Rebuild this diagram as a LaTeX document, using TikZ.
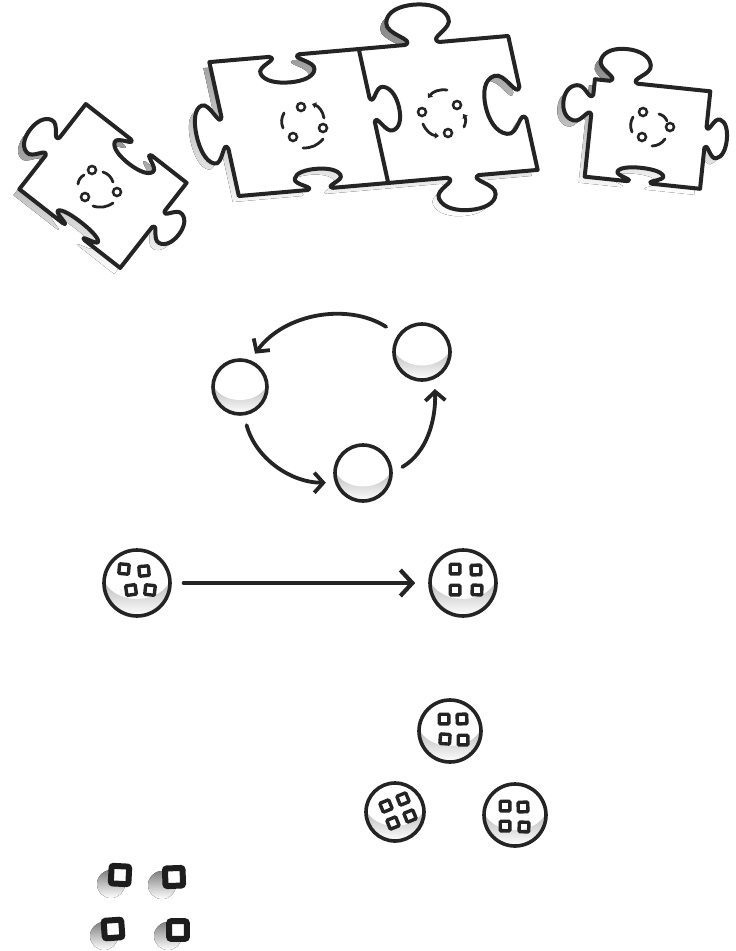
\documentclass[tikz,border=0pt]{standalone}
\usetikzlibrary{arrows.meta}
\definecolor{ink}{HTML}{242424}
\definecolor{shade}{HTML}{C7C8CA}

% Jigsaw tab on an edge: #1 edge level, #2 tab centre along the edge,
% #3 signed depth (positive = knob, negative = socket), #4 width factor.
\newcommand\pzN[4]{-- ({#2-0.2*(#4)},{#1}) .. controls ({#2-0.06*(#4)},{#1-0.12*(#3)}) and ({#2-0.4*(#4)},{#1-0.3*(#3)}) .. ({#2-0.36*(#4)},{#1-0.6*(#3)}) .. controls ({#2-0.33*(#4)},{#1-0.88*(#3)}) and ({#2-0.17*(#4)},{#1-(#3)}) .. ({#2},{#1-(#3)}) .. controls ({#2+0.17*(#4)},{#1-(#3)}) and ({#2+0.33*(#4)},{#1-0.88*(#3)}) .. ({#2+0.36*(#4)},{#1-0.6*(#3)}) .. controls ({#2+0.4*(#4)},{#1-0.3*(#3)}) and ({#2+0.06*(#4)},{#1-0.12*(#3)}) .. ({#2+0.2*(#4)},{#1})}
\newcommand\pzE[4]{-- ({#1},{#2-0.2*(#4)}) .. controls ({#1+0.12*(#3)},{#2-0.06*(#4)}) and ({#1+0.3*(#3)},{#2-0.4*(#4)}) .. ({#1+0.6*(#3)},{#2-0.36*(#4)}) .. controls ({#1+0.88*(#3)},{#2-0.33*(#4)}) and ({#1+(#3)},{#2-0.17*(#4)}) .. ({#1+(#3)},{#2}) .. controls ({#1+(#3)},{#2+0.17*(#4)}) and ({#1+0.88*(#3)},{#2+0.33*(#4)}) .. ({#1+0.6*(#3)},{#2+0.36*(#4)}) .. controls ({#1+0.3*(#3)},{#2+0.4*(#4)}) and ({#1+0.12*(#3)},{#2+0.06*(#4)}) .. ({#1},{#2+0.2*(#4)})}
\newcommand\pzS[4]{-- ({#2+0.2*(#4)},{#1}) .. controls ({#2+0.06*(#4)},{#1+0.12*(#3)}) and ({#2+0.4*(#4)},{#1+0.3*(#3)}) .. ({#2+0.36*(#4)},{#1+0.6*(#3)}) .. controls ({#2+0.33*(#4)},{#1+0.88*(#3)}) and ({#2+0.17*(#4)},{#1+(#3)}) .. ({#2},{#1+(#3)}) .. controls ({#2-0.17*(#4)},{#1+(#3)}) and ({#2-0.33*(#4)},{#1+0.88*(#3)}) .. ({#2-0.36*(#4)},{#1+0.6*(#3)}) .. controls ({#2-0.4*(#4)},{#1+0.3*(#3)}) and ({#2-0.06*(#4)},{#1+0.12*(#3)}) .. ({#2-0.2*(#4)},{#1})}
\newcommand\pzW[4]{-- ({#1},{#2+0.2*(#4)}) .. controls ({#1-0.12*(#3)},{#2+0.06*(#4)}) and ({#1-0.3*(#3)},{#2+0.4*(#4)}) .. ({#1-0.6*(#3)},{#2+0.36*(#4)}) .. controls ({#1-0.88*(#3)},{#2+0.33*(#4)}) and ({#1-(#3)},{#2+0.17*(#4)}) .. ({#1-(#3)},{#2}) .. controls ({#1-(#3)},{#2-0.17*(#4)}) and ({#1-0.88*(#3)},{#2-0.33*(#4)}) .. ({#1-0.6*(#3)},{#2-0.36*(#4)}) .. controls ({#1-0.3*(#3)},{#2-0.4*(#4)}) and ({#1-0.12*(#3)},{#2-0.06*(#4)}) .. ({#1},{#2-0.2*(#4)})}

% Piece outlines in their own unit frames (y grows downwards)
\newcommand\pieceone{(-1,-1) \pzN{-1}{0.1}{-0.38}{1.05} -- (1,-1) \pzE{1}{-0.15}{0.4}{0.95} -- (1,1) \pzS{1}{0.08}{-0.22}{1.1} -- (-1,1) \pzW{-1}{0}{0.44}{1.05} -- cycle}
\newcommand\piecepair{(-2,-1) \pzN{-1}{-1.0}{-0.4}{1.0} -- (0,-1) \pzN{-1}{0.85}{0.58}{1.15} -- (2,-1) \pzE{2}{0}{-0.5}{1.2} -- (2,1) \pzS{1}{1.0}{0.5}{1.05} -- (0,1) \pzS{1}{-0.91}{-0.3}{0.85} -- (-2,1) \pzW{-2}{0.06}{0.38}{1.2} -- cycle}
\newcommand\piecejoint{(0,-1) \pzE{0}{-0.09}{0.36}{0.9} -- (0,1)}
\newcommand\piecefour{(-1,-1) \pzN{-1}{-0.5}{0.68}{1.2} -- (1,-1) \pzE{1}{-0.05}{0.37}{1.1} -- (1,1) \pzS{1}{-0.05}{-0.3}{1.1} -- (-1,1) \pzW{-1}{-0.48}{0.5}{1.0} -- cycle}

% small square marks
\newcommand\tinysq[3]{\draw[sq, rotate around={#3:(#1,#2)}] ({#1-4.8},{#2-4.8}) rectangle ({#1+4.8},{#2+4.8});}
\newcommand\bigsq[3]{\filldraw[bigsq, rotate around={#3:(#1,#2)}] ({#1-8.8},{#2-8.8}) rectangle ({#1+8.8},{#2+8.8});}

\begin{document}
\begin{tikzpicture}[x=1pt,y=-1pt,
  piece/.style={draw=ink, fill=white, line width=4pt, line join=round},
  joint/.style={draw=ink, line width=4pt, line join=round},
  icon/.style={draw=ink, line width=2.8pt, line cap=round},
  dot/.style={draw=ink, line width=2.5pt},
  icontip/.style={-{Triangle[length=4pt,width=6pt]}},
  cyc/.style={draw=ink, line width=3.8pt, line cap=round, -{Straight Barb[length=9pt,width=20pt]}},
  bigarr/.style={draw=ink, line width=4.2pt, line cap=round, -{Straight Barb[length=12pt,width=26pt]}},
  sq/.style={draw=ink, line width=3.4pt, rounded corners=1pt},
  bigsq/.style={draw=ink!80!black, fill=white, line width=6pt, rounded corners=2pt},
  ball/.style={circle, draw=ink, line width=3.6pt, minimum size=2*#1, inner sep=0pt,
    path picture={\fill[shade] (path picture bounding box.south west) rectangle (path picture bounding box.north east);
      \fill[white] ([yshift=0.32*#1]path picture bounding box.center) ellipse [x radius=1.05*#1, y radius=0.8*#1];}},
  pone/.style={shift={(103,186)}, rotate=-38, xscale=64, yscale=54},
  ppair/.style={shift={(373.5,116)}, rotate=5, xslant=-0.13, xscale=75, yscale=68},
  pfour/.style={shift={(647.5,134)}, rotate=-6, xscale=58, yscale=49}]
\useasboundingbox (0,0) rectangle (736,951);
\fill[white] (0,0) rectangle (736,951);

% ---- puzzle pieces: shadows, then outlines
\begin{scope}[shift={(-6,6)}]
  \begin{scope}[pone]\fill[shade] \pieceone;\end{scope}
  \begin{scope}[ppair]\fill[shade] \piecepair;\end{scope}
  \begin{scope}[pfour]\fill[shade] \piecefour;\end{scope}
\end{scope}
\begin{scope}[pone]\path[piece] \pieceone;\end{scope}
\begin{scope}[ppair]\path[piece] \piecepair; \path[joint] \piecejoint;\end{scope}
\begin{scope}[pfour]\path[piece] \piecefour;\end{scope}

% ---- cycle marks on the pieces
% left piece
\draw[dot] (92,170) circle[radius=4];
\draw[dot] (85,197) circle[radius=4];
\draw[dot] (117,192) circle[radius=4];
\draw[icon] (78,184) to[bend left=25] (84,175);
\draw[icon] (103,172) to[bend left=25] (113,182);
\draw[icon] (113,203) to[bend left=25] (93,206);
% joined pair, left half
\draw[dot] (301,107) circle[radius=4];
\draw[dot] (323,128) circle[radius=4];
\draw[dot] (293,137) circle[radius=4];
\draw[icon] (283,128) to[bend left=25] (284,113);
\draw[icon,icontip] (324,118) to[bend right=30] (312,104);
\draw[icon] (323,139) to[bend left=25] (303,148);
% joined pair, right half
\draw[dot] (422,112) circle[radius=4];
\draw[dot] (457,105) circle[radius=4];
\draw[dot] (448,133) circle[radius=4];
\draw[icon,icontip] (447,90) to[bend right=30] (428,98);
\draw[icon,icontip] (423,124) to[bend right=30] (439,136);
\draw[icon,icontip] (464,127) to[bend right=30] (463,114);
% right piece
\draw[dot] (643,112) circle[radius=4];
\draw[dot] (670,127) circle[radius=4];
\draw[dot] (642,137) circle[radius=4];
\draw[icon] (632,132) to[bend left=25] (633,117);
\draw[icon] (659,114) to[bend left=25] (667,121);
\draw[icon] (665,139) to[bend left=25] (652,146);

% ---- three-step cycle
\node[ball=28pt] (tr) at (422,352) {};
\node[ball=27pt] (lf) at (240,387) {};
\node[ball=28pt] (bt) at (363,473) {};
\draw[cyc, shorten <=14pt, shorten >=8pt] (tr.144) to[out=147,in=54] (lf.69);
\draw[cyc, shorten <=10pt, shorten >=9pt] (lf.278) to[out=285,in=180] (bt.199);
\draw[cyc, shorten <=11pt, shorten >=10pt] (bt.1) to[out=30,in=272] (tr.295);

% ---- one cell turning into another
\node[ball=33pt] (ml) at (137,583) {};
\node[ball=33pt] (mr) at (463,583) {};
\draw[bigarr, shorten <=12pt, shorten >=13pt] (ml) -- (mr);
\tinysq{124}{569}{-5}\tinysq{144}{571}{5}\tinysq{131}{590}{8}\tinysq{150}{590}{-6}
\tinysq{455}{569}{0}\tinysq{476}{570}{3}\tinysq{455}{590}{0}\tinysq{477}{590}{-2}

% ---- group of three cells
\node[ball=31pt] (ca) at (450,731) {};
\node[ball=29pt] (cb) at (395,812) {};
\node[ball=31pt] (cc) at (515,815) {};
\tinysq{444}{719}{0}\tinysq{462}{719}{3}\tinysq{445}{739}{-4}\tinysq{463}{740}{0}
\tinysq{386}{806}{22}\tinysq{403}{799}{22}\tinysq{393}{823}{22}\tinysq{410}{816}{22}
\tinysq{505}{806}{0}\tinysq{523}{807}{2}\tinysq{505}{826}{0}\tinysq{524}{827}{-2}

% ---- loose squares with their shadows
\fill[shade] (111,884) circle[radius=14];
\fill[shade] (162,885) circle[radius=14];
\fill[shade] (104,936) circle[radius=14];
\fill[shade] (168,936) circle[radius=14];
\bigsq{120}{875}{-3}
\bigsq{174}{877}{2}
\bigsq{113}{929}{4}
\bigsq{178}{930}{0}
\end{tikzpicture}
\end{document}
